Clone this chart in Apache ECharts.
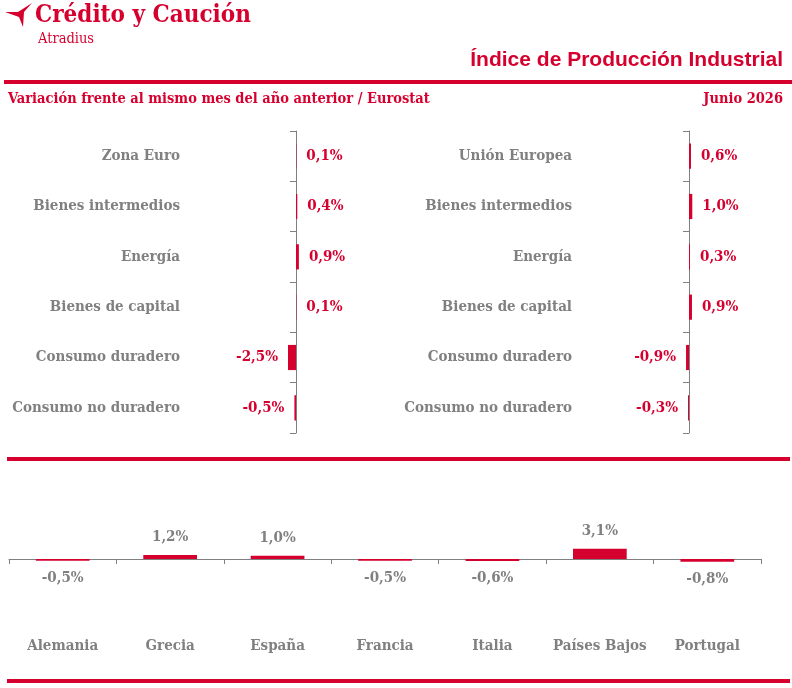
<!DOCTYPE html>
<html>
<head>
    <meta charset="UTF-8">
    <title>Índice de Producción Industrial</title>
    <script src="https://cdn.jsdelivr.net/npm/echarts@6/dist/echarts.min.js"></script>
    <style>
        html, body { margin: 0; padding: 0; background: #fff; }
        #chart { width: 792px; height: 688px; }
    </style>
</head>
<body>
    <div id="chart"></div>
    <script>
        const leftCats = ['Zona Euro', 'Bienes intermedios', 'Energía', 'Bienes de capital', 'Consumo duradero', 'Consumo no duradero'];
        const leftVals = [0.1, 0.4, 0.9, 0.1, -2.5, -0.5];
        const rightCats = ['Unión Europea', 'Bienes intermedios', 'Energía', 'Bienes de capital', 'Consumo duradero', 'Consumo no duradero'];
        const rightVals = [0.6, 1.0, 0.3, 0.9, -0.9, -0.3];
        const countries = ['Alemania', 'Grecia', 'España', 'Francia', 'Italia', 'Países Bajos', 'Portugal'];
        const countryVals = [-0.5, 1.2, 1.0, -0.5, -0.6, 3.1, -0.8];

        const RED = '#d6002f';
        const GREY = '#808080';
        const SERIF = '"DejaVu Serif Condensed", "DejaVu Serif", serif';

        const fmt = v => v.toFixed(1).replace('.', ',') + '%';

        // horizontal bars: label goes right of positive, left of negative
        const hItems = vals => vals.map(v => ({
            value: v,
            label: { position: v < 0 ? 'left' : 'right' }
        }));
        const vItems = vals => vals.map(v => ({
            value: v,
            label: { position: v < 0 ? 'bottom' : 'top' }
        }));

        const catAxis = (idx, cats, margin) => ({
            type: 'category',
            gridIndex: idx,
            data: cats,
            inverse: true,
            axisLine: { onZero: true, lineStyle: { color: GREY, width: 1 } },
            axisTick: { show: true, length: 6, lineStyle: { color: GREY, width: 1 } },
            axisLabel: {
                margin: margin,
                interval: 0,
                color: GREY,
                fontFamily: SERIF,
                fontWeight: 'bold',
                fontSize: 15
            }
        });
        const valAxis = idx => ({
            type: 'value',
            gridIndex: idx,
            min: -30,
            max: 30,
            show: false
        });

        const barLabel = (color, size) => ({
            show: true,
            distance: 10,
            color: color,
            fontFamily: SERIF,
            fontWeight: 'bold',
            fontSize: size,
            formatter: p => fmt(p.value)
        });

        const chart = echarts.init(document.getElementById('chart'));

        const option = {
            animation: false,
            grid: [
                { left: 200, top: 131, width: 192, height: 302, outerBoundsMode: 'none', containLabel: false },
                { left: 590, top: 131, width: 198, height: 302, outerBoundsMode: 'none', containLabel: false },
                { left: 9, top: 493, width: 752, height: 132, outerBoundsMode: 'none', containLabel: false }
            ],
            xAxis: [
                valAxis(0),
                valAxis(1),
                {
                    type: 'category',
                    gridIndex: 2,
                    data: countries,
                    axisLine: { onZero: true, lineStyle: { color: GREY, width: 1 } },
                    axisTick: { show: true, length: 5, lineStyle: { color: GREY, width: 1 } },
                    axisLabel: {
                        margin: 14,
                        interval: 0,
                        color: GREY,
                        fontFamily: SERIF,
                        fontWeight: 'bold',
                        fontSize: 15
                    }
                }
            ],
            yAxis: [
                catAxis(0, leftCats, 20),
                catAxis(1, rightCats, 18),
                { type: 'value', gridIndex: 2, min: -20, max: 20, show: false }
            ],
            series: [
                {
                    type: 'bar', xAxisIndex: 0, yAxisIndex: 0,
                    data: hItems(leftVals), barWidth: '50%',
                    itemStyle: { color: RED },
                    label: barLabel(RED, 15)
                },
                {
                    type: 'bar', xAxisIndex: 1, yAxisIndex: 1,
                    data: hItems(rightVals), barWidth: '50%',
                    itemStyle: { color: RED },
                    label: barLabel(RED, 15)
                },
                {
                    type: 'bar', xAxisIndex: 2, yAxisIndex: 2,
                    data: vItems(countryVals), barWidth: '50%',
                    itemStyle: { color: RED },
                    label: barLabel(GREY, 15)
                }
            ],
            graphic: [
                // logo mark
                {
                    type: 'polygon',
                    shape: { points: [[32, 3], [24, 12], [23, 27], [19, 17], [5, 12], [18, 12]] },
                    style: { fill: RED }
                },
                {
                    type: 'text', left: 35, top: 4,
                    style: { text: 'Crédito y Caución', fill: RED, font: 'bold 24px ' + SERIF }
                },
                {
                    type: 'text', left: 38, top: 32,
                    style: { text: 'Atradius', fill: RED, font: '14.5px ' + SERIF }
                },
                {
                    type: 'text', right: 9, top: 50,
                    style: { text: 'Índice de Producción Industrial', fill: RED, font: 'bold 21px "Liberation Sans Narrow", "Liberation Sans", sans-serif' }
                },
                { type: 'rect', shape: { x: 4, y: 80, width: 788, height: 4 }, style: { fill: RED } },
                {
                    type: 'text', left: 8, top: 92,
                    style: { text: 'Variación frente al mismo mes del año anterior / Eurostat', fill: RED, font: 'bold 14.5px ' + SERIF }
                },
                {
                    type: 'text', right: 9, top: 92,
                    style: { text: 'Junio 2026', fill: RED, font: 'bold 14.5px ' + SERIF }
                },
                { type: 'rect', shape: { x: 7, y: 457, width: 783, height: 4 }, style: { fill: RED } },
                { type: 'rect', shape: { x: 7, y: 679, width: 783, height: 4 }, style: { fill: RED } }
            ]
        };

        chart.setOption(option);
    </script>
</body>
</html>
